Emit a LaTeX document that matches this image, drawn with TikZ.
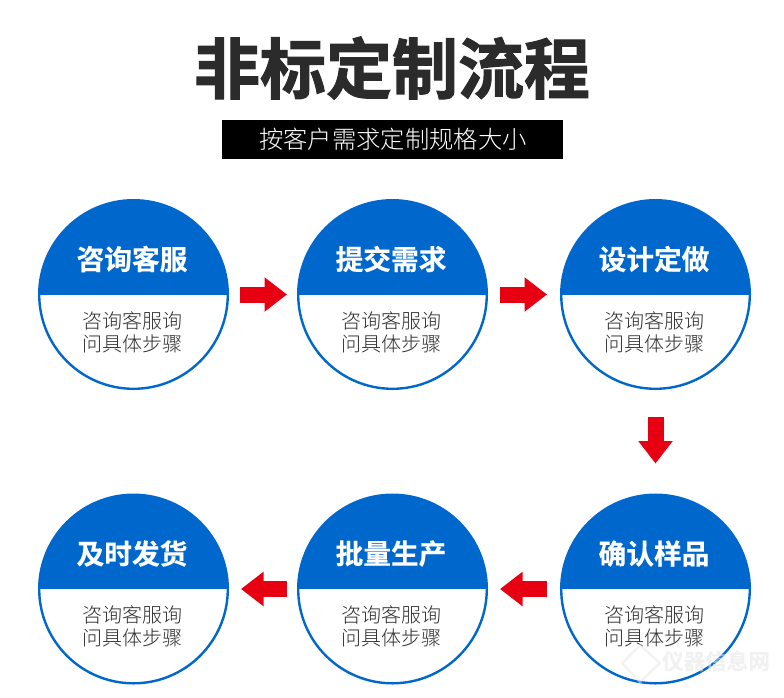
\documentclass[tikz,border=0pt]{standalone}
\usepackage{fontspec}
\usetikzlibrary{arrows.meta}
\setmainfont{Noto Sans CJK SC}
\newfontfamily\titlefont[FakeBold=1.6]{Noto Sans CJK SC Bold}
\newfontfamily\headfont[FakeBold=0.3]{Noto Sans CJK SC Bold}
\newfontfamily\plainfont{Noto Sans CJK SC Light}
\definecolor{flowblue}{HTML}{0068CC}
\definecolor{flowred}{HTML}{E60012}
\definecolor{titleink}{HTML}{2B2B2B}
\definecolor{bodyink}{HTML}{2E2E2E}
\definecolor{markgrey}{HTML}{E8E8E8}
\tikzset{
  stage/.style={circle,draw=flowblue,line width=2.4pt,minimum size=188.6pt,inner sep=0pt,outer sep=1.2pt,
    path picture={\fill[flowblue] (path picture bounding box.west) rectangle (path picture bounding box.north east);}},
  stagehead/.style={text=white,font=\headfont\fontsize{27.7pt}{30pt}\selectfont,inner sep=0pt},
  stagebody/.style={text=bodyink,align=center,font=\plainfont\fontsize{20pt}{22.7pt}\selectfont,inner sep=0pt},
  flowarrow/.style={draw=flowred,line width=16pt,
    -{Triangle[length=22.5pt,width=33pt,fill=flowred]}},
}
\newcommand{\stagenode}[4]{%
  \node[stage] (#1) at (#2) {};
  \node[stagehead] (#1head) at ([yshift=-60pt,xshift=-1.5pt]#1.north) {#3};
  \node[stagebody] (#1body) at ([yshift=-133pt,xshift=-1.2pt]#1.north) {#4};
}
\begin{document}
\begin{tikzpicture}[x=1pt,y=-1pt]
  \useasboundingbox (0,0) rectangle (784,697);
  % heading and subtitle bar
  \node[text=titleink,font=\titlefont\fontsize{66pt}{70pt}\selectfont,inner sep=0pt] (title) at (392,68) {非标定制流程};
  \node[fill=black,text=white,minimum width=341pt,minimum height=39pt,inner sep=0pt,font=\plainfont\fontsize{24.3pt}{26pt}\selectfont] (bar) at (392.5,139.5) {\hspace{1pt}按客户需求定制规格大小};
  % process stages
  \stagenode{s1}{133.5,294.5}{咨询客服}{咨询客服询\\问具体步骤}
  \stagenode{s2}{392.5,294.5}{提交需求}{咨询客服询\\问具体步骤}
  \stagenode{s3}{655.5,294.5}{设计定做}{咨询客服询\\问具体步骤}
  \stagenode{s4}{655.5,589}{确认样品}{咨询客服询\\问具体步骤}
  \stagenode{s5}{392.5,589}{批量生产}{咨询客服询\\问具体步骤}
  \stagenode{s6}{133.5,589}{及时发货}{咨询客服询\\问具体步骤}
  % connectors between stages
  \draw[flowarrow,shorten <=11pt,shorten >=10pt] (s1) -- (s2);
  \draw[flowarrow,shorten <=12pt,shorten >=13pt] (s2) -- (s3);
  \draw[flowarrow,shorten <=27pt,shorten >=30pt] (s3) -- (s4);
  \draw[flowarrow,shorten <=13pt,shorten >=12pt] (s4) -- (s5);
  \draw[flowarrow,shorten <=10pt,shorten >=12pt] (s5) -- (s6);
  % faint site mark in the lower right corner
  \draw[markgrey,line width=2.5pt,opacity=0.5,line join=round] (640,645) -- (660,663) -- (640,682) -- (622,663) -- cycle;
  \node[text=markgrey,opacity=0.6,inner sep=0pt,font=\headfont\fontsize{21.6pt}{24pt}\selectfont] (mark) at (716,661) {仪器信息网};
\end{tikzpicture}
\end{document}
